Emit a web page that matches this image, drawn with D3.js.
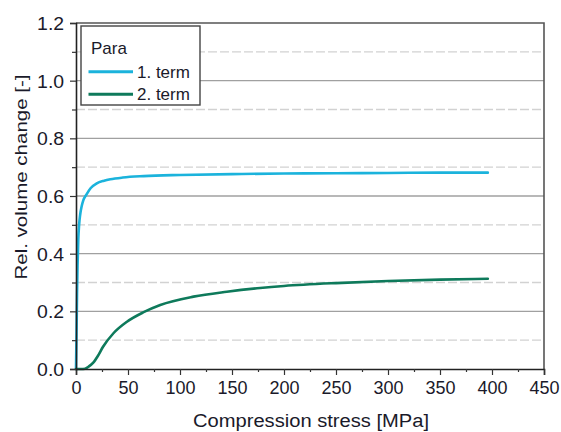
<!DOCTYPE html>
<html>
<head>
<meta charset="utf-8">
<script src="https://cdn.jsdelivr.net/npm/d3@7"></script>
<style>
  html, body { margin: 0; padding: 0; background: #fff; }
  svg text { font-family: "Liberation Sans", Arial, sans-serif; fill: #1a1a2a; }
</style>
</head>
<body>
<svg id="chart" width="561" height="432"></svg>
<script>
// Compression stress [MPa] and relative volume change of the two terms
const stress1 = [0, 0.5, 1, 1.5, 2.2, 3, 4, 5.5, 7, 10, 14, 20, 27, 33, 45, 65, 100, 150, 200, 250, 300, 350, 396];
const term1   = [0, 0.12, 0.26, 0.36, 0.45, 0.5, 0.535, 0.565, 0.585, 0.605, 0.627, 0.644, 0.653, 0.658, 0.664, 0.669, 0.673, 0.676, 0.678, 0.679, 0.68, 0.681, 0.681];

const stress2 = [0, 5, 8.7, 12, 16.6, 21, 26, 36, 49, 65, 81, 113, 145, 177, 200, 250, 300, 350, 396];
const term2   = [0, 0, 0.001, 0.008, 0.022, 0.045, 0.077, 0.124, 0.164, 0.197, 0.222, 0.251, 0.268, 0.281, 0.288, 0.298, 0.305, 0.31, 0.313];

const seriesNames = ["1. term", "2. term"];
const seriesColors = ["#1bb3dc", "#0e7a5b"];

const xMajorTicks = [0, 50, 100, 150, 200, 250, 300, 350, 400, 450];
const xMinorTicks = [25, 75, 125, 175, 225, 275, 325, 375, 425];
const yMajorTicks = [0, 0.2, 0.4, 0.6, 0.8, 1.0, 1.2];
const yMinorTicks = [0.1, 0.3, 0.5, 0.7, 0.9, 1.1];

const svg = d3.select("#chart");
const margin = { left: 76, right: 17, top: 23, bottom: 63 };
const W = 561, H = 432;

const x = d3.scaleLinear().domain([0, 450]).range([margin.left, W - margin.right]);
const y = d3.scaleLinear().domain([0, 1.2]).range([H - margin.bottom, margin.top]);

// grid
const grid = svg.append("g");
grid.selectAll("line.minor").data(yMinorTicks).join("line")
  .attr("x1", x(0)).attr("x2", x(450))
  .attr("y1", d => y(d)).attr("y2", d => y(d))
  .attr("stroke", "#d2d2d2").attr("stroke-width", 1.3)
  .attr("stroke-dasharray", "9,3");
grid.selectAll("line.major").data(yMajorTicks.filter(d => d > 0 && d < 1.2)).join("line")
  .attr("x1", x(0)).attr("x2", x(450))
  .attr("y1", d => y(d)).attr("y2", d => y(d))
  .attr("stroke", "#a0a0a0").attr("stroke-width", 1.3);

// curves
const line = d3.line().x(d => x(d[0])).y(d => y(d[1])).curve(d3.curveMonotoneX);
const data = [d3.zip(stress1, term1), d3.zip(stress2, term2)];
svg.append("g").selectAll("path").data(data).join("path")
  .attr("d", line)
  .attr("fill", "none")
  .attr("stroke", (d, i) => seriesColors[i])
  .attr("stroke-width", 2.6)
  .attr("stroke-linecap", "round");

// plot frame (top and right)
svg.append("path")
  .attr("d", `M${x(0)},${y(1.2)}H${x(450)}V${y(0)}`)
  .attr("fill", "none").attr("stroke", "#555").attr("stroke-width", 1.6);

// axes
const xAxis = svg.append("g").attr("transform", `translate(0,${y(0)})`)
  .call(d3.axisBottom(x).tickValues(xMajorTicks).tickSize(6).tickFormat(d3.format("d")));
svg.append("g").attr("transform", `translate(0,${y(0)})`)
  .call(d3.axisBottom(x).tickValues(xMinorTicks).tickSize(3).tickFormat(""))
  .call(g => g.select(".domain").remove());
const yAxis = svg.append("g").attr("transform", `translate(${x(0)},0)`)
  .call(d3.axisLeft(y).tickValues(yMajorTicks).tickSize(6).tickFormat(d3.format(".1f")));
svg.append("g").attr("transform", `translate(${x(0)},0)`)
  .call(d3.axisLeft(y).tickValues(yMinorTicks).tickSize(4).tickFormat(""))
  .call(g => g.select(".domain").remove());

svg.selectAll(".domain").attr("stroke", "#222").attr("stroke-width", 1.6);
svg.selectAll(".tick line").attr("stroke", "#333").attr("stroke-width", 1.2);
xAxis.selectAll("text").attr("font-size", 18).attr("y", 8).attr("dy", "0.95em");
yAxis.selectAll("text").attr("font-size", 18).attr("x", -11).attr("dy", "0.36em")
  .attr("transform", "scale(1.08,1)");
svg.selectAll(".tick text").style("fill", "#1a1a2a").attr("font-family", null);

// axis titles
svg.append("text")
  .attr("x", 311).attr("y", 427)
  .attr("text-anchor", "middle").attr("font-size", 18)
  .attr("textLength", 236).attr("lengthAdjust", "spacingAndGlyphs")
  .text("Compression stress [MPa]");
svg.append("text")
  .attr("transform", `translate(27,177) rotate(-90)`)
  .attr("text-anchor", "middle").attr("font-size", 17)
  .attr("textLength", 205).attr("lengthAdjust", "spacingAndGlyphs")
  .text("Rel. volume change [-]");

// legend
const lg = svg.append("g").attr("transform", "translate(81,26)");
lg.append("rect").attr("width", 119).attr("height", 79)
  .attr("fill", "#fff").attr("stroke", "#444").attr("stroke-width", 1.4);
lg.append("text").attr("x", 10).attr("y", 28).attr("font-size", 17).text("Para");
seriesNames.forEach((name, i) => {
  const yy = 45.7 + i * 22.5;
  lg.append("line").attr("x1", 7.5).attr("x2", 52).attr("y1", yy).attr("y2", yy)
    .attr("stroke", seriesColors[i]).attr("stroke-width", 3);
  lg.append("text").attr("x", 56).attr("y", yy + 5.8).attr("font-size", 17).text(name);
});
</script>
</body>
</html>
